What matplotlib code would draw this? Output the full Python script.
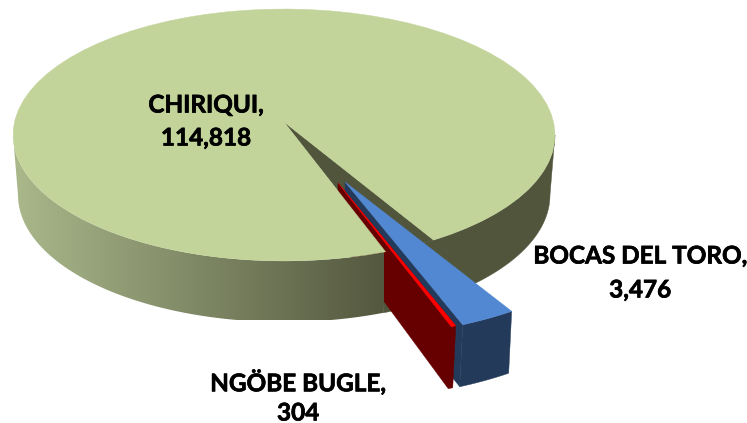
import numpy as np
import matplotlib
matplotlib.use("Agg")
import matplotlib.pyplot as plt
import matplotlib.patheffects as pe
from matplotlib.colors import LinearSegmentedColormap
from matplotlib.patches import Polygon

# data
names = ["BOCAS DEL TORO", "NGÖBE BUGLE", "CHIRIQUI"]
values = [3476, 304, 114818]
value_labels = ["3,476", "304", "114,818"]

# colours
C_TOP = "#c3d49b"
C_WALL = "#50553c"
C_BLUE = "#5288d2"
C_BLUE_D = "#243a5a"
C_RED = "#ff0000"
C_RED_D = "#660000"

START = -56.5  # where first slice begins (ellipse parameter, degrees)

fig = plt.figure(figsize=(7.47, 4.23), dpi=100)
ax = fig.add_axes([0, 0, 1, 1])
ax.set_xlim(0, 747)
ax.set_ylim(423, 0)
ax.axis("off")

sweeps = np.array(values) / sum(values) * 360
edges = START - np.concatenate([[0], np.cumsum(sweeps)])


def arc(t0, t1, cx, cy, a, b, n=80):
    t = np.radians(np.linspace(t0, t1, n))
    return np.column_stack([cx + a * np.cos(t), cy - b * np.sin(t)])


def poly(pts, color, z):
    ax.add_patch(Polygon(pts, closed=True, facecolor=color, edgecolor=color, lw=0.3, zorder=z))


# main disc geometry
top = dict(cx=284, cy=135, a=271, b=126)
bot = dict(cx=284, cy=195, a=266, b=127)
apex = np.array([[284, 122]])

# dark inner wall and right hand wall
t_end = edges[2]
wall_top = arc(0, START, **top)
wall_bot = arc(t_end, 0, **bot)
poly(np.vstack([wall_top, arc(START, t_end, **top), wall_bot]), C_WALL, 1)
poly(np.vstack([apex, arc(START, t_end, **top)]), C_WALL, 1)

# exploded slices, apex + big ellipse
A, B = 302, 155
DEPTH, SHRINK = 62, 3


def slice_parts(x0, y0, t0, t1):
    rim = arc(t0, t1, x0, y0, A, B, n=12)
    return np.array([[x0, y0]]), rim, rim + [-SHRINK, DEPTH]


# bocas
o, rim, low = slice_parts(345, 182, edges[0], edges[1])
poly(np.vstack([rim, low[::-1]]), C_BLUE_D, 2)
poly(np.vstack([o, rim[-1:], low[-1:], o + [0, DEPTH]]), C_BLUE_D, 2)
poly(np.vstack([o, rim]), C_BLUE, 3)

# ngobe
o, rim, low = slice_parts(338, 183, edges[1], edges[2])
poly(np.vstack([o, rim[:1], low[:1], low[-1:], o + [0, 56]]), C_RED_D, 4)
poly(np.vstack([o, rim]), C_RED, 5)

# chiriqui top + shaded side
side_top = arc(t_end, -180, **top)
side_bot = arc(-180, t_end, **bot)
side = Polygon(np.vstack([side_top, side_bot]), closed=True, facecolor="none", edgecolor="none", zorder=6)
ax.add_patch(side)
cmap = LinearSegmentedColormap.from_list("side", ["#aab88b", "#54583f"])
im = ax.imshow(np.linspace(0, 1, 256).reshape(1, -1), cmap=cmap, aspect="auto",
               extent=[13, 384, 320, 130], zorder=6)
im.set_clip_path(side)
ax.set_xlim(0, 747)
ax.set_ylim(423, 0)
poly(np.vstack([apex, arc(t_end, START - 360, **top)]), C_TOP, 7)

# labels
font = dict(family="Lato", fontweight="bold", fontsize=17.5, color="black",
            ha="center", va="center", zorder=10,
            path_effects=[pe.withStroke(linewidth=0.5, foreground="black")])
ax.text(206, 105, names[2] + ",", **font)
ax.text(206, 138, value_labels[2], **font)
ax.text(640, 256, names[0] + ",", **font)
ax.text(640, 290, value_labels[0], **font)
ax.text(298, 382, names[1] + ",", **font)
ax.text(298, 413, value_labels[1], **font)

fig.savefig("out.png", dpi=100, facecolor="white")
